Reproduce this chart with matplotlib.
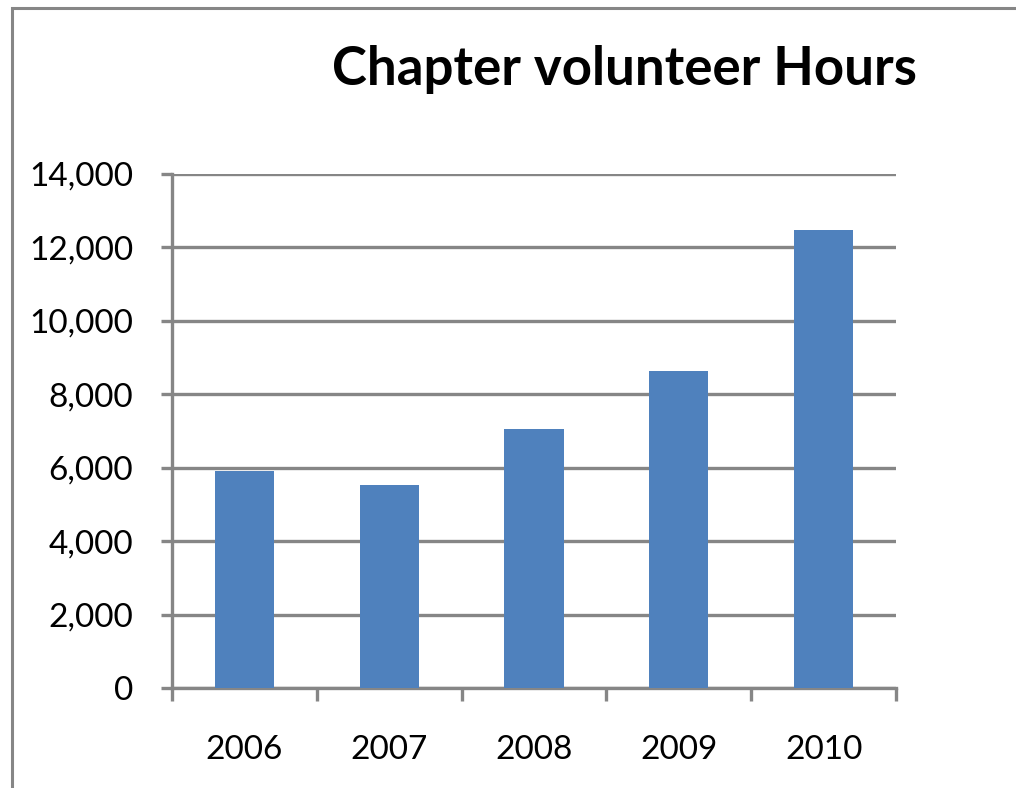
import matplotlib.pyplot as plt
from matplotlib.patches import Rectangle
from matplotlib.ticker import FuncFormatter

years = ['2006', '2007', '2008', '2009', '2010']
hours = [5920, 5530, 7060, 8630, 12470]
yticks = [0, 2000, 4000, 6000, 8000, 10000, 12000, 14000]

grey = '#868686'
blue = '#4f81bd'
plt.rcParams['font.family'] = ['Lato', 'DejaVu Sans']

fig = plt.figure(figsize=(10.16, 7.88), dpi=100)
ax = fig.add_axes([172/1016, 1-688/788, (896-172)/1016, (688-174)/788])

# outer chart frame (runs off the right and bottom edges)
fig.patches.append(Rectangle((11.5/1016, -0.5), 2.0, 1.5 - 7.5/788,
                             transform=fig.transFigure, fill=False,
                             edgecolor=grey, linewidth=2.2, zorder=0))

x = list(range(len(years)))
ax.bar(x, hours, width=0.41, color=blue, zorder=3)

ax.set_xlim(-0.5, len(years) - 0.5)
ax.set_ylim(0, 14000)
ax.set_yticks(yticks)
ax.yaxis.set_major_formatter(FuncFormatter(lambda v, p: f'{int(v):,}'))
ax.set_xticks(x)
ax.set_xticklabels(years)
ax.set_xticks([i - 0.5 for i in range(len(years) + 1)], minor=True)

ax.grid(axis='y', color=grey, linewidth=2.4, zorder=0)
for s in ['top', 'right']:
    ax.spines[s].set_visible(False)
for s in ['left', 'bottom']:
    ax.spines[s].set_color(grey)
    ax.spines[s].set_linewidth(2.4)

ax.tick_params(axis='y', length=8, width=2.4, color=grey, labelsize=24, pad=20)
ax.tick_params(axis='x', which='major', length=0, labelsize=24, pad=34)
ax.tick_params(axis='x', which='minor', length=9, width=2.4, color=grey)

fig.text(624/1016, 1-70/788, 'Chapter volunteer Hours', ha='center', va='center',
         fontsize=38, fontweight='bold')

fig.savefig('out.png', dpi=100)
